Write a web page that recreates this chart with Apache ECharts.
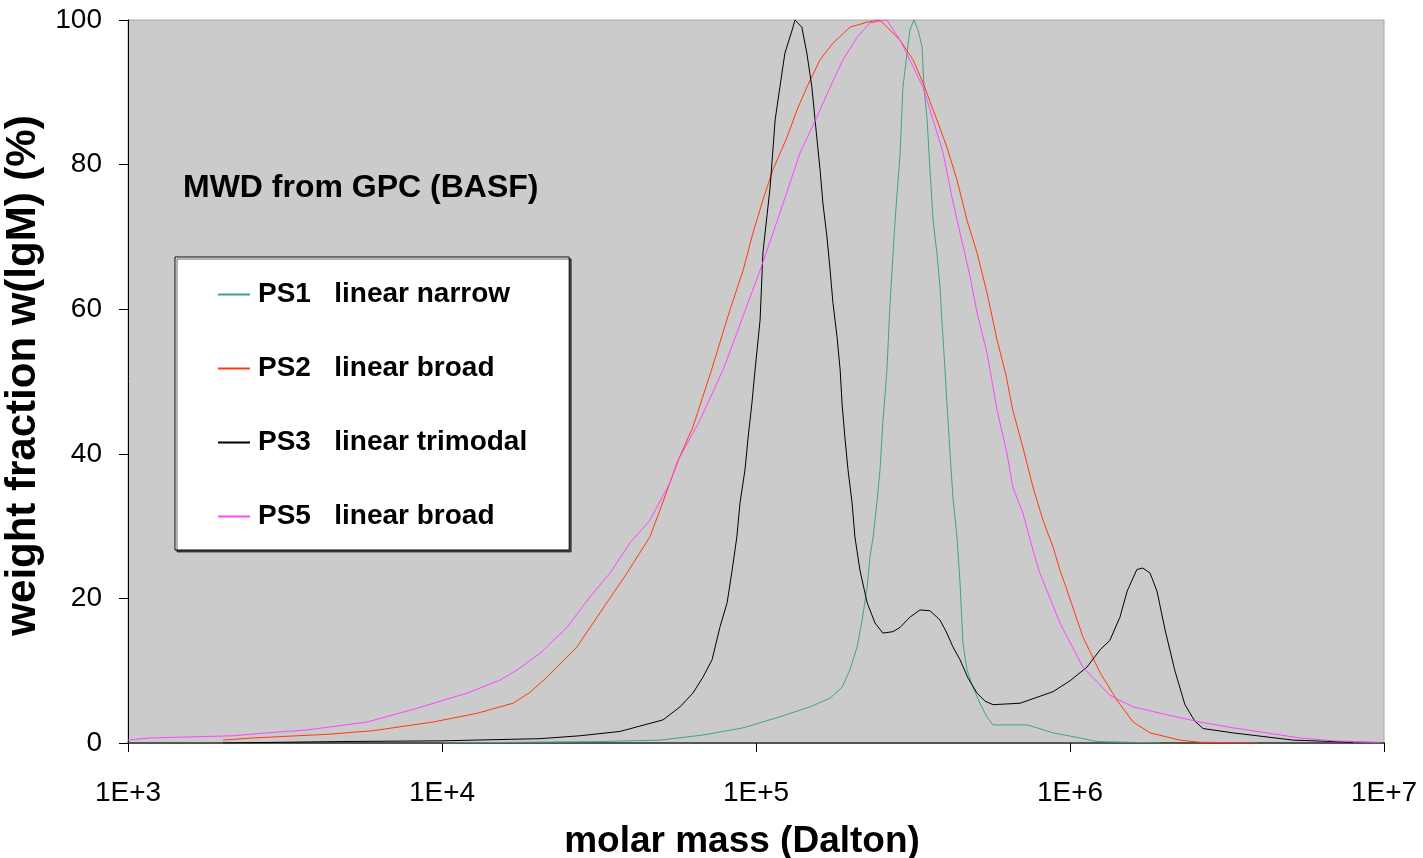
<!DOCTYPE html>
<html>
<head>
<meta charset="utf-8">
<script src="https://cdn.jsdelivr.net/npm/echarts@6/dist/echarts.min.js"></script>
<style>
html,body{margin:0;padding:0;background:#fff;}
#chart{width:1423px;height:858px;}
</style>
</head>
<body>
<div id="chart"></div>
<script>
// x values are lg(M), M = molar mass in Dalton; y values are w(lgM) in %
const seriesNames = ['PS1  linear narrow', 'PS2  linear broad', 'PS3  linear trimodal', 'PS5  linear broad'];
const xTickLabels = ['1E+3', '1E+4', '1E+5', '1E+6', '1E+7'];

const lgM_PS1 = [4.000, 4.503, 4.694, 4.831, 4.959, 5.067, 5.172, 5.236, 5.274, 5.299, 5.322, 5.338, 5.354, 5.363, 5.373, 5.385, 5.395, 5.404, 5.417, 5.427, 5.443, 5.459, 5.468, 5.481, 5.490, 5.503, 5.516, 5.529, 5.535, 5.545, 5.554, 5.564, 5.576, 5.586, 5.592, 5.602, 5.608, 5.618, 5.627, 5.640, 5.650, 5.659, 5.672, 5.691, 5.713, 5.736, 5.755, 5.863, 5.895, 5.946, 6.032, 6.086, 6.287];
const w_PS1   = [0.0, 0.2, 0.4, 1.1, 2.1, 3.5, 5.0, 6.2, 7.7, 10.1, 13.3, 17.0, 21.6, 25.7, 28.5, 33.2, 37.8, 44.3, 51.6, 60.9, 72.3, 81.6, 90.7, 95.4, 98.6, 100, 98.6, 96.3, 90.7, 86.2, 79.3, 72.3, 67.8, 63.1, 58.5, 51.6, 47.0, 40.1, 34.0, 28.5, 22.0, 13.8, 10.1, 7.7, 5.5, 3.6, 2.5, 2.5, 2.1, 1.4, 0.7, 0.2, 0.0];

const lgM_PS2 = [3.303, 3.398, 3.634, 3.780, 3.971, 4.111, 4.226, 4.280, 4.334, 4.430, 4.503, 4.589, 4.662, 4.694, 4.726, 4.748, 4.799, 4.854, 4.917, 4.959, 4.990, 5.022, 5.054, 5.099, 5.131, 5.162, 5.204, 5.245, 5.299, 5.354, 5.395, 5.436, 5.459, 5.500, 5.532, 5.564, 5.608, 5.640, 5.672, 5.704, 5.736, 5.768, 5.796, 5.818, 5.850, 5.882, 5.914, 5.946, 5.968, 5.990, 6.041, 6.096, 6.150, 6.201, 6.255, 6.350, 6.414, 6.596];
const w_PS2   = [0.4, 0.7, 1.2, 1.7, 2.9, 4.1, 5.5, 7.0, 9.1, 13.3, 18.0, 23.5, 28.5, 32.2, 36.0, 38.7, 43.7, 51.0, 59.9, 65.4, 70.5, 75.1, 79.3, 83.8, 87.6, 90.7, 94.5, 96.8, 99.0, 99.7, 100, 98.2, 97.2, 94.5, 91.3, 87.6, 82.4, 77.9, 72.3, 67.8, 62.2, 55.7, 50.9, 46.0, 40.9, 35.4, 30.8, 27.1, 23.9, 21.2, 14.7, 9.7, 5.9, 2.9, 1.4, 0.4, 0.1, 0.0];

const lgM_PS3 = [3.303, 3.675, 4.000, 4.312, 4.439, 4.567, 4.704, 4.758, 4.799, 4.831, 4.860, 4.885, 4.908, 4.924, 4.939, 4.949, 4.965, 4.975, 4.987, 4.997, 5.013, 5.022, 5.045, 5.061, 5.076, 5.092, 5.115, 5.124, 5.146, 5.162, 5.178, 5.188, 5.204, 5.213, 5.226, 5.236, 5.245, 5.258, 5.268, 5.274, 5.283, 5.293, 5.306, 5.315, 5.331, 5.354, 5.379, 5.404, 5.436, 5.459, 5.490, 5.522, 5.554, 5.586, 5.608, 5.627, 5.650, 5.675, 5.704, 5.729, 5.755, 5.841, 5.946, 6.000, 6.054, 6.096, 6.127, 6.159, 6.182, 6.213, 6.232, 6.255, 6.277, 6.303, 6.334, 6.366, 6.398, 6.424, 6.519, 6.615, 6.710, 6.901];
const w_PS3   = [0.0, 0.2, 0.3, 0.6, 1.0, 1.6, 3.2, 5.0, 6.9, 9.1, 11.5, 16.0, 19.4, 23.9, 28.5, 33.2, 37.8, 42.3, 47.0, 51.6, 58.5, 67.8, 76.9, 86.2, 90.7, 95.4, 98.6, 100, 99.0, 95.4, 90.7, 86.2, 79.3, 74.7, 70.0, 65.4, 60.9, 56.2, 51.6, 47.0, 42.3, 37.8, 33.2, 28.5, 23.9, 19.4, 16.6, 15.2, 15.4, 16.0, 17.4, 18.4, 18.3, 17.0, 15.2, 13.3, 11.5, 9.0, 6.9, 5.8, 5.3, 5.5, 7.1, 8.6, 10.5, 12.9, 14.2, 17.4, 21.0, 24.0, 24.2, 23.5, 21.0, 15.6, 10.0, 5.3, 3.0, 2.0, 1.4, 0.9, 0.4, 0.1];

const lgM_PS5 = [3.000, 3.070, 3.334, 3.443, 3.570, 3.761, 3.920, 4.080, 4.185, 4.239, 4.312, 4.398, 4.471, 4.535, 4.599, 4.662, 4.726, 4.758, 4.822, 4.895, 4.939, 5.013, 5.076, 5.140, 5.194, 5.236, 5.277, 5.322, 5.363, 5.417, 5.459, 5.532, 5.564, 5.596, 5.624, 5.650, 5.682, 5.704, 5.736, 5.768, 5.799, 5.818, 5.850, 5.882, 5.904, 5.968, 6.041, 6.127, 6.201, 6.309, 6.414, 6.519, 6.627, 6.732, 6.838, 6.987];
const w_PS5   = [0.4, 0.7, 1.0, 1.4, 1.8, 2.9, 4.8, 6.9, 8.7, 10.1, 12.4, 16.0, 20.2, 23.5, 27.7, 30.8, 36.0, 39.6, 44.7, 51.6, 56.7, 65.4, 73.3, 81.6, 86.6, 90.7, 94.5, 97.6, 99.6, 100, 97.2, 90.7, 86.2, 81.6, 75.5, 70.5, 64.5, 59.5, 53.9, 46.0, 40.1, 35.4, 31.8, 26.7, 23.5, 16.6, 10.5, 6.6, 5.0, 3.9, 2.9, 2.1, 1.4, 0.7, 0.3, 0.1];

const colors = ['#3FA57E', '#FF3A10', '#000000', '#FF44FF'];
const xs = [lgM_PS1, lgM_PS2, lgM_PS3, lgM_PS5];
const ys = [w_PS1, w_PS2, w_PS3, w_PS5];

const FONT = '"Liberation Sans", Arial, sans-serif';
const chart = echarts.init(document.getElementById('chart'), null, {renderer: 'canvas'});

const series = seriesNames.map((name, i) => ({
  name: name,
  type: 'line',
  data: xs[i].map((x, k) => [x, ys[i][k]]),
  showSymbol: false,
  symbol: 'none',
  lineStyle: {color: colors[i], width: 1},
  itemStyle: {color: colors[i]},
  animation: false,
  z: 3
}));

chart.setOption({
  animation: false,
  backgroundColor: '#ffffff',
  title: {
    text: 'MWD from GPC (BASF)',
    left: 178, top: 167,
    textStyle: {fontFamily: FONT, fontSize: 32, fontWeight: 'bold', color: '#000'}
  },
  grid: {
    left: 128, right: 39, top: 20, bottom: 115,
    containLabel: false,
    outerBoundsMode: 'none',
    show: true, backgroundColor: '#CBCBCB', borderColor: '#A6A6A6', borderWidth: 1
  },
  legend: {
    orient: 'vertical',
    left: 175, top: 257,
    padding: [23, 42, 19, 43],
    itemGap: 45,
    itemWidth: 32, itemHeight: 2,
    icon: 'rect',
    backgroundColor: '#ffffff',
    borderColor: '#000000', borderWidth: 1,
    shadowColor: 'rgba(0,0,0,0.6)', shadowOffsetX: 2, shadowOffsetY: 2, shadowBlur: 0,
    formatter: n => n.replace('  ', '\u00a0\u00a0\u00a0'),
    textStyle: {fontFamily: FONT, fontSize: 28, fontWeight: 'bold', color: '#000', lineHeight: 29, padding: [0, 0, 0, 3]},
    data: seriesNames.map((n, i) => ({name: n, itemStyle: {color: colors[i]}}))
  },
  xAxis: {
    type: 'value', min: 3, max: 7, interval: 1,
    name: 'molar mass (Dalton)', nameLocation: 'middle', nameGap: 80,
    nameTextStyle: {fontFamily: FONT, fontSize: 37, fontWeight: 'bold', color: '#000', padding: [0, 28, 0, 0]},
    axisLine: {show: true, lineStyle: {color: '#555', width: 2}},
    axisTick: {show: true, length: 9, inside: false, lineStyle: {color: '#000', width: 1}},
    axisLabel: {
      margin: 36, fontFamily: FONT, fontSize: 28, color: '#000',
      formatter: v => xTickLabels[Math.round(v) - 3]
    },
    splitLine: {show: false}
  },
  yAxis: {
    type: 'value', min: 0, max: 100, interval: 20,
    name: 'weight fraction w(lgM) (%)', nameLocation: 'middle', nameGap: 71,
    nameTextStyle: {fontFamily: FONT, fontSize: 42, fontWeight: 'bold', color: '#000', padding: [0, 0, 0, 12]},
    axisLine: {show: true, lineStyle: {color: '#000', width: 1}},
    axisTick: {show: true, length: 9, inside: false, lineStyle: {color: '#000', width: 1}},
    axisLabel: {margin: 26, fontFamily: FONT, fontSize: 28, color: '#000'},
    splitLine: {show: false}
  },
  series: series
});
</script>
</body>
</html>
